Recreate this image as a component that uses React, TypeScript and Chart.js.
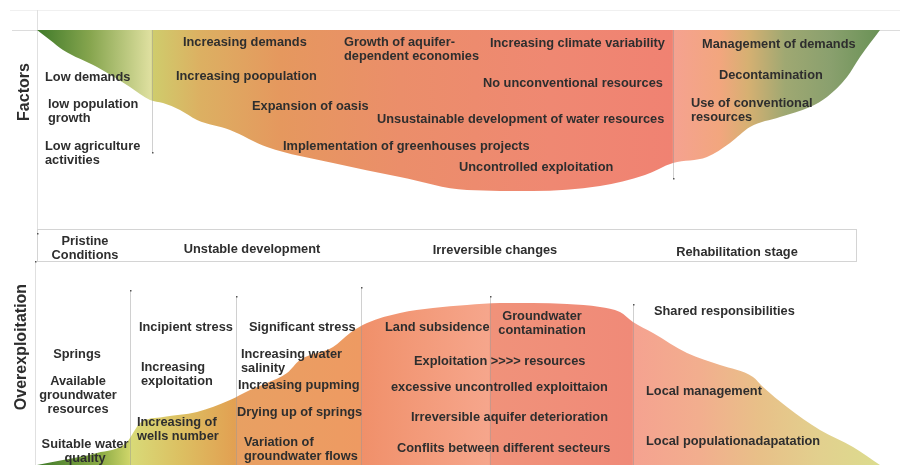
import { useEffect, useRef } from "react";
import { Chart, registerables } from "chart.js";
Chart.register(...registerables);

// ---- Data (diagram units: x = progression, y = level, top = 0) ----
const factorCurveX = [37, 50, 63, 97, 130, 150, 163, 180, 197, 230, 267, 333, 400, 467, 533, 600, 645, 673, 707, 730, 750, 780, 810, 827, 847, 860, 880];
const factorCurveY = [30, 40, 50, 67, 87, 100, 103, 110, 120, 130, 147, 163, 177, 190, 191, 186, 175, 163, 157, 143, 127, 117, 107, 97, 77, 57, 30];

const exploitCurveX = [37, 63, 97, 127, 133, 140, 163, 197, 230, 250, 267, 287, 300, 333, 350, 367, 400, 433, 467, 500, 533, 567, 600, 620, 633, 653, 687, 720, 753, 763, 787, 820, 853, 880];
const exploitCurveY = [465, 460, 453, 442, 433, 423, 417, 412, 400, 390, 383, 373, 360, 347, 333, 323, 313, 308, 305, 303, 303, 304, 307, 312, 322, 333, 353, 365, 377, 387, 407, 430, 447, 465];

const factorColorStops: [number, string][] = [
  [37, "#3f7a2a"], [90, "#86a54e"], [151, "#dfe0a0"], [153, "#cfcc6c"], [200, "#dcb062"],
  [280, "#e5985e"], [400, "#eb8e6a"], [550, "#ef8872"], [672, "#f08272"], [674, "#f5a290"],
  [720, "#f2a67e"], [748, "#d6b072"], [785, "#9fa872"], [830, "#8aa06e"], [880, "#6a9256"],
];
const exploitColorStops: [number, string][] = [
  [37, "#3f7a2a"], [100, "#8aaa44"], [129, "#cdd468"], [131, "#d8da78"], [180, "#dcc062"],
  [235, "#e2a052"], [237, "#e8a062"], [360, "#ee9a62"], [362, "#f0906a"], [489, "#f6a68c"],
  [491, "#f0927a"], [632, "#f08a78"], [634, "#f5a290"], [700, "#f2ae8e"], [760, "#e8c088"],
  [820, "#e2d08e"], [880, "#dcdc8e"],
];

const factorDividerX = [152, 673];
const factorDividerEnd = [152, 178];
const exploitDividerX = [130, 236, 361, 490, 633];
const exploitDividerStart = [290, 296, 287, 296, 304];

type Label = { lines: string[]; x: number; y: number; align?: CanvasTextAlign };

const factorLabels: Label[] = [
  { lines: ["Low demands"], x: 45, y: 77 },
  { lines: ["low population", "growth"], x: 48, y: 104 },
  { lines: ["Low agriculture", "activities"], x: 45, y: 146 },
  { lines: ["Increasing demands"], x: 183, y: 42 },
  { lines: ["Increasing poopulation"], x: 176, y: 76 },
  { lines: ["Expansion of oasis"], x: 252, y: 106 },
  { lines: ["Implementation of greenhouses projects"], x: 283, y: 146 },
  { lines: ["Growth of aquifer-", "dependent economies"], x: 344, y: 42 },
  { lines: ["Increasing climate variability"], x: 490, y: 43 },
  { lines: ["No unconventional resources"], x: 483, y: 83 },
  { lines: ["Unsustainable development of water resources"], x: 377, y: 119 },
  { lines: ["Uncontrolled exploitation"], x: 459, y: 167 },
  { lines: ["Management of demands"], x: 702, y: 44 },
  { lines: ["Decontamination"], x: 719, y: 75 },
  { lines: ["Use of conventional", "resources"], x: 691, y: 103 },
];

const stageLabels: Label[] = [
  { lines: ["Pristine", "Conditions"], x: 85, y: 241, align: "center" },
  { lines: ["Unstable development"], x: 252, y: 249, align: "center" },
  { lines: ["Irreversible changes"], x: 495, y: 250, align: "center" },
  { lines: ["Rehabilitation stage"], x: 737, y: 252, align: "center" },
];

const exploitLabels: Label[] = [
  { lines: ["Springs"], x: 77, y: 354, align: "center" },
  { lines: ["Available", "groundwater", "resources"], x: 78, y: 381, align: "center" },
  { lines: ["Suitable water", "quality"], x: 85, y: 444, align: "center" },
  { lines: ["Incipient stress"], x: 139, y: 327 },
  { lines: ["Increasing", "exploitation"], x: 141, y: 367 },
  { lines: ["Increasing of", "wells number"], x: 137, y: 422 },
  { lines: ["Significant stress"], x: 249, y: 327 },
  { lines: ["Increasing water", "salinity"], x: 241, y: 354 },
  { lines: ["Increasing pupming"], x: 238, y: 385 },
  { lines: ["Drying up of springs"], x: 237, y: 412 },
  { lines: ["Variation of", "groundwater flows"], x: 244, y: 442 },
  { lines: ["Land subsidence"], x: 385, y: 327 },
  { lines: ["Groundwater", "contamination"], x: 542, y: 316, align: "center" },
  { lines: ["Exploitation >>>> resources"], x: 414, y: 361 },
  { lines: ["excessive uncontrolled exploittaion"], x: 391, y: 387 },
  { lines: ["Irreversible aquifer deterioration"], x: 411, y: 417 },
  { lines: ["Conflits between different secteurs"], x: 397, y: 448 },
  { lines: ["Shared responsibilities"], x: 654, y: 311 },
  { lines: ["Local management"], x: 646, y: 391 },
  { lines: ["Local populationadapatation"], x: 646, y: 441 },
];

const axisTitles: Label[] = [
  { lines: ["Factors"], x: 25, y: 92, align: "center" },
  { lines: ["Overexploitation"], x: 22, y: 347, align: "center" },
];

const FONT = '"Liberation Sans", Arial, sans-serif';
const TEXT_COLOR = "#2e2e2e";

function makeGradient(chart: any, stops: [number, string][]) {
  const { ctx, chartArea, scales } = chart;
  if (!chartArea) return "#e8a060";
  const g = ctx.createLinearGradient(chartArea.left, 0, chartArea.right, 0);
  const w = chartArea.right - chartArea.left;
  stops.forEach(([x, c]) => {
    const f = (scales.x.getPixelForValue(x) - chartArea.left) / w;
    g.addColorStop(Math.min(1, Math.max(0, f)), c);
  });
  return g;
}

const diagramPlugin = {
  id: "diagram",
  beforeDraw(chart: any) {
    const { ctx, scales } = chart;
    const px = (v: number) => scales.x.getPixelForValue(v);
    const py = (v: number) => scales.y.getPixelForValue(v);
    ctx.save();
    ctx.fillStyle = "#ffffff";
    ctx.fillRect(0, 0, chart.width, chart.height);
    ctx.lineWidth = 1;
    ctx.strokeStyle = "#f0f0f0";
    ctx.beginPath();
    ctx.moveTo(px(10), py(10) + 0.5);
    ctx.lineTo(px(900), py(10) + 0.5);
    ctx.stroke();
    ctx.strokeStyle = "#dcdcdc";
    ctx.beginPath();
    ctx.moveTo(px(12), py(30) + 0.5);
    ctx.lineTo(px(900), py(30) + 0.5);
    ctx.stroke();
    ctx.strokeStyle = "#e0e0e0";
    ctx.beginPath();
    ctx.moveTo(px(37) + 0.5, py(10));
    ctx.lineTo(px(37) + 0.5, py(262));
    ctx.moveTo(px(35) + 0.5, py(262));
    ctx.lineTo(px(35) + 0.5, py(465));
    ctx.stroke();
    ctx.strokeStyle = "#d4d4d4";
    ctx.strokeRect(px(37) + 0.5, py(229) + 0.5, px(856) - px(37), py(261) - py(229));
    ctx.restore();
  },
  afterDatasetsDraw(chart: any) {
    const { ctx, scales } = chart;
    const px = (v: number) => scales.x.getPixelForValue(v);
    const py = (v: number) => scales.y.getPixelForValue(v);
    ctx.save();
    ctx.strokeStyle = "rgba(150,150,150,0.45)";
    ctx.lineWidth = 1;
    ctx.fillStyle = "#555";
    factorDividerX.forEach((x, i) => {
      ctx.beginPath();
      ctx.moveTo(px(x) + 0.5, py(30));
      ctx.lineTo(px(x) + 0.5, py(factorDividerEnd[i]));
      ctx.stroke();
      ctx.fillRect(px(x), py(factorDividerEnd[i]), 1.5, 1.5);
    });
    exploitDividerX.forEach((x, i) => {
      ctx.beginPath();
      ctx.moveTo(px(x) + 0.5, py(exploitDividerStart[i]));
      ctx.lineTo(px(x) + 0.5, py(465));
      ctx.stroke();
      ctx.fillRect(px(x), py(exploitDividerStart[i]), 1.5, 1.5);
    });
    ctx.fillRect(px(37), py(233), 1.5, 1.5);
    ctx.fillRect(px(35), py(261), 1.5, 1.5);

    ctx.fillStyle = TEXT_COLOR;
    ctx.textBaseline = "middle";
    const drawLabels = (labels: Label[], size: number, lh: number) => {
      ctx.font = `bold ${size}px ${FONT}`;
      labels.forEach((l) => {
        ctx.textAlign = l.align || "left";
        l.lines.forEach((t, k) => ctx.fillText(t, px(l.x), py(l.y + k * lh)));
      });
    };
    drawLabels(factorLabels, 12.8, 14);
    drawLabels(stageLabels, 12.8, 14);
    drawLabels(exploitLabels, 12.8, 14);

    ctx.font = `bold 16px ${FONT}`;
    ctx.textAlign = "center";
    axisTitles.forEach((l) => {
      ctx.save();
      ctx.translate(px(l.x), py(l.y));
      ctx.rotate(-Math.PI / 2);
      ctx.fillText(l.lines[0], 0, 0);
      ctx.restore();
    });
    ctx.restore();
  },
};

export default function App() {
  const ref = useRef<HTMLCanvasElement | null>(null);
  useEffect(() => {
    if (!ref.current) return;
    const chart = new Chart(ref.current, {
      type: "line",
      data: {
        datasets: [
          {
            label: "Factors",
            data: factorCurveX.map((x, i) => ({ x, y: factorCurveY[i] })),
            fill: { value: 30 },
            backgroundColor: (c: any) => makeGradient(c.chart, factorColorStops),
            borderWidth: 0,
            pointRadius: 0,
            cubicInterpolationMode: "monotone",
          },
          {
            label: "Overexploitation",
            data: exploitCurveX.map((x, i) => ({ x, y: exploitCurveY[i] })),
            fill: "start",
            backgroundColor: (c: any) => makeGradient(c.chart, exploitColorStops),
            borderWidth: 0,
            pointRadius: 0,
            cubicInterpolationMode: "monotone",
          },
        ],
      },
      options: {
        animation: false,
        responsive: false,
        devicePixelRatio: 1,
        layout: { padding: 0 },
        plugins: { legend: { display: false }, tooltip: { enabled: false } },
        scales: {
          x: { type: "linear", min: 0, max: 904, display: false },
          y: { type: "linear", min: 0, max: 465, reverse: true, display: false },
        },
      },
      plugins: [diagramPlugin],
    });
    return () => chart.destroy();
  }, []);
  return (
    <div style={{ position: "absolute", left: 0, top: 0, width: 904, height: 465, background: "#fff" }}>
      <canvas ref={ref} width={904} height={465} />
    </div>
  );
}
